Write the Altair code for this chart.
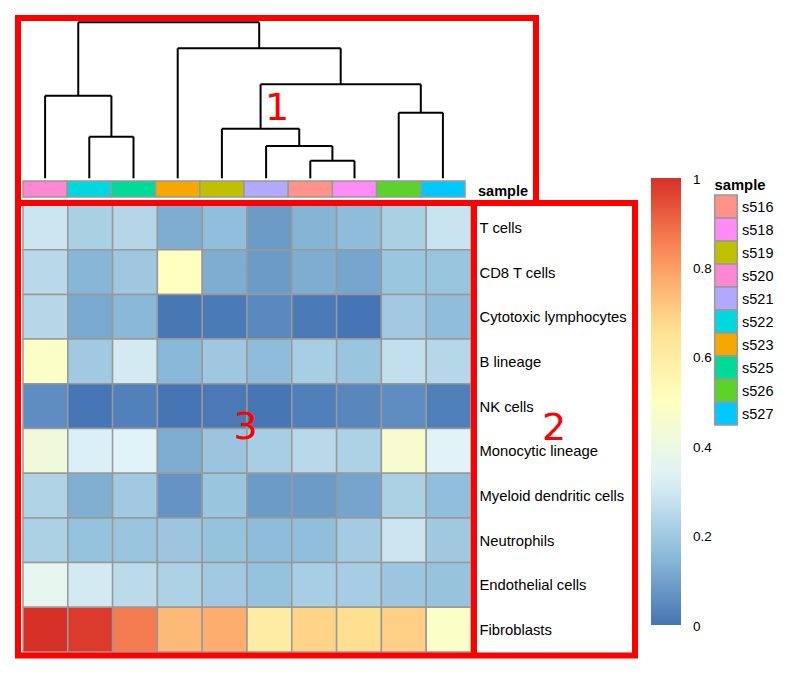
import altair as alt
import pandas as pd

# ---------------- data ----------------
samples = ["s520", "s522", "s525", "s523", "s519", "s521", "s516", "s518", "s526", "s527"]  # dendrogram order
cell_types = ["T cells", "CD8 T cells", "Cytotoxic lymphocytes", "B lineage", "NK cells",
              "Monocytic lineage", "Myeloid dendritic cells", "Neutrophils", "Endothelial cells", "Fibroblasts"]

t_cells      = [0.29, 0.22, 0.24, 0.125, 0.167, 0.086, 0.143, 0.16, 0.22, 0.285]
cd8_t_cells  = [0.25, 0.147, 0.197, 0.50, 0.125, 0.086, 0.125, 0.107, 0.188, 0.183]
cytotoxic    = [0.243, 0.116, 0.152, 0.005, 0.011, 0.046, 0.011, 0.0, 0.20, 0.163]
b_lineage    = [0.48, 0.20, 0.306, 0.152, 0.197, 0.16, 0.215, 0.185, 0.268, 0.243]
nk_cells     = [0.055, 0.003, 0.026, 0.0, 0.01, 0.002, 0.024, 0.04, 0.053, 0.024]
monocytic    = [0.42, 0.323, 0.333, 0.125, 0.187, 0.215, 0.25, 0.225, 0.46, 0.34]
myeloid_dc   = [0.232, 0.13, 0.20, 0.07, 0.185, 0.086, 0.086, 0.105, 0.224, 0.166]
neutrophils  = [0.224, 0.175, 0.182, 0.19, 0.176, 0.16, 0.166, 0.205, 0.29, 0.198]
endothelial  = [0.365, 0.305, 0.256, 0.225, 0.20, 0.175, 0.215, 0.212, 0.19, 0.18]
fibroblasts  = [1.0, 0.98, 0.865, 0.745, 0.77, 0.60, 0.69, 0.665, 0.70, 0.48]
rows = [t_cells, cd8_t_cells, cytotoxic, b_lineage, nk_cells,
        monocytic, myeloid_dc, neutrophils, endothelial, fibroblasts]

legend_samples = ["s516", "s518", "s519", "s520", "s521", "s522", "s523", "s525", "s526", "s527"]
sample_colors = ["#FF9289", "#FF8BF7", "#BFC000", "#FF86D3", "#B2A9FF",
                 "#00D8E0", "#F5A800", "#00DB98", "#5BD32B", "#00C9FF"]

heat_colors = ["#4575B4", "#91BFDB", "#E0F3F8", "#FFFFBF", "#FEE090", "#FC8D59", "#D73027"]
legend_ticks = [0, 0.2, 0.4, 0.6, 0.8, 1]
legend_tick_labels = ["0", "0.2", "0.4", "0.6", "0.8", "1"]

# dendrogram merges: (left child, right child, height); leaves are 0..9, merged nodes 10..
merges = [
    (1, 2, 41.6),     # 10
    (0, 10, 82.6),    # 11
    (6, 7, 17.6),     # 12
    (5, 12, 32.3),    # 13
    (4, 13, 49.6),    # 14
    (8, 9, 65.6),     # 15
    (14, 15, 94.0),   # 16
    (3, 16, 130.0),   # 17
    (11, 17, 156.0),  # 18 root
]

# ---------------- tables ----------------
heat_df = pd.DataFrame([
    {"sample": s, "celltype": ct, "value": rows[i][j]}
    for i, ct in enumerate(cell_types) for j, s in enumerate(samples)
])
anno_df = pd.DataFrame({"sample": samples, "track": ["sample"] * len(samples)})
label_df = pd.DataFrame({"celltype": cell_types})
legend_df = pd.DataFrame({"sample": legend_samples})
tick_df = pd.DataFrame({"tick": legend_ticks, "label": legend_tick_labels})

node_x = {i: i + 0.5 for i in range(len(samples))}
node_h = {i: 0.0 for i in range(len(samples))}
segs = []
for k, (a, b, h) in enumerate(merges):
    nid = len(samples) + k
    node_x[nid] = (node_x[a] + node_x[b]) / 2
    node_h[nid] = h
    segs.append({"x": node_x[a], "x2": node_x[a], "y": node_h[a], "y2": h})
    segs.append({"x": node_x[b], "x2": node_x[b], "y": node_h[b], "y2": h})
    segs.append({"x": node_x[a], "x2": node_x[b], "y": h, "y2": h})
dendro_df = pd.DataFrame(segs)

one = pd.DataFrame({"k": [0]})

FONT = "Liberation Sans"
GREY = "#999999"
sample_scale = alt.Scale(domain=legend_samples, range=sample_colors)

# ---------------- layers ----------------
heat = alt.Chart(heat_df).mark_rect(stroke=GREY, strokeWidth=1.5).encode(
    x=alt.X("sample:N", sort=samples, axis=None,
            scale=alt.Scale(range=[15, 463], paddingInner=0, paddingOuter=0)),
    y=alt.Y("celltype:N", sort=cell_types, axis=None,
            scale=alt.Scale(range=[197, 644], paddingInner=0, paddingOuter=0)),
    color=alt.Color("value:Q",
                    scale=alt.Scale(domain=[0, 1], range=heat_colors, interpolate="rgb"),
                    legend=alt.Legend(orient="none", legendX=643, legendY=170, title=None,
                                      direction="vertical",
                                      gradientLength=447, gradientThickness=30,
                                      gradientStrokeWidth=0, values=legend_ticks,
                                      labelOpacity=0, labelFontSize=1)),
)

# colour-bar tick labels, placed on the same 0..1 scale as the bar
bar_labels = alt.Chart(tick_df).mark_text(
    align="left", baseline="middle", font=FONT, fontSize=13.5, color="black", dy=1.5
).encode(
    x=alt.value(685),
    y=alt.Y("tick:Q", axis=None, scale=alt.Scale(domain=[0, 1], range=[617, 170])),
    text="label:N",
)

anno = alt.Chart(anno_df).mark_rect(stroke=GREY, strokeWidth=1.5).encode(
    x=alt.X("sample:N", sort=samples, axis=None,
            scale=alt.Scale(range=[15, 457], paddingInner=0, paddingOuter=0)),
    y=alt.Y("track:N", axis=None,
            scale=alt.Scale(range=[173, 189], paddingInner=0, paddingOuter=0)),
    color=alt.Color("sample:N", scale=sample_scale, legend=None),
)

# annotation legend (swatches + labels + title)
leg_swatch = alt.Chart(legend_df).mark_rect(stroke=GREY, strokeWidth=1.5).encode(
    x=alt.value(706.7), x2=alt.value(729.3),
    y=alt.Y("sample:N", sort=legend_samples, axis=None,
            scale=alt.Scale(range=[187, 417], paddingInner=0, paddingOuter=0)),
    color=alt.Color("sample:N", scale=sample_scale, legend=None),
)
leg_label = alt.Chart(legend_df).mark_text(
    align="left", baseline="middle", font=FONT, fontSize=14.5, color="black"
).encode(
    x=alt.value(734),
    y=alt.Y("sample:N", sort=legend_samples, axis=None,
            scale=alt.Scale(type="point", range=[188, 418], padding=0.5)),
    text="sample:N",
)
leg_title = alt.Chart(one).mark_text(
    align="left", baseline="middle", font=FONT, fontSize=14.8, fontWeight="bold", color="black"
).encode(x=alt.value(706.5), y=alt.value(178), text=alt.value("sample"))

dendro = alt.Chart(dendro_df).mark_rule(color="black", strokeWidth=2).encode(
    x=alt.X("x:Q", axis=None, scale=alt.Scale(domain=[0, 10], range=[15, 457])),
    x2="x2:Q",
    y=alt.Y("y:Q", axis=None, scale=alt.Scale(domain=[0, 156], range=[170.3, 14.3])),
    y2="y2:Q",
)

row_labels = alt.Chart(label_df).mark_text(
    align="left", baseline="middle", font=FONT, fontSize=14.8, color="black"
).encode(
    x=alt.value(471.5),
    y=alt.Y("celltype:N", sort=cell_types, axis=None,
            scale=alt.Scale(type="point", range=[198.5, 645.5], padding=0.5)),
    text="celltype:N",
)

anno_title = alt.Chart(one).mark_text(
    align="left", baseline="middle", font=FONT, fontSize=14.5, fontWeight="bold", color="black"
).encode(x=alt.value(470), y=alt.value(184), text=alt.value("sample"))

box_style = dict(fillOpacity=0, stroke="#FF0000", strokeWidth=6)
box1 = alt.Chart(one).mark_rect(**box_style).encode(
    x=alt.value(10), x2=alt.value(528), y=alt.value(10), y2=alt.value(195))
box23 = alt.Chart(one).mark_rect(**box_style).encode(
    x=alt.value(10), x2=alt.value(627), y=alt.value(195), y2=alt.value(647.5))
divider = alt.Chart(one).mark_rule(stroke="#FF0000", strokeWidth=6).encode(
    x=alt.value(466), y=alt.value(195), y2=alt.value(647.5))

num_style = dict(align="center", baseline="middle", font="DejaVu Sans", fontSize=38, color="#FF0000")
num1 = alt.Chart(one).mark_text(**num_style).encode(x=alt.value(269), y=alt.value(101), text=alt.value("1"))
num2 = alt.Chart(one).mark_text(**num_style).encode(x=alt.value(546), y=alt.value(421), text=alt.value("2"))
num3 = alt.Chart(one).mark_text(**num_style).encode(x=alt.value(237.5), y=alt.value(420), text=alt.value("3"))

chart = alt.layer(
    heat, bar_labels, anno, dendro, row_labels, anno_title, leg_swatch, leg_label, leg_title,
    box1, box23, divider, num1, num2, num3
).resolve_scale(
    x="independent", y="independent", color="independent"
).properties(
    width=785, height=666, autosize=alt.AutoSizeParams(type="none"), padding=0
).configure_view(stroke=None)

chart.save("out.html", embed_options={"renderer": "svg", "actions": False})
